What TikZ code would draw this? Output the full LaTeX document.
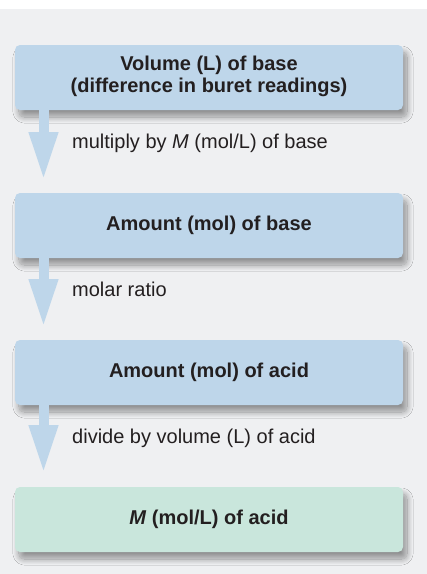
\documentclass[tikz,border=0pt]{standalone}
\usepackage{fontspec}
\setmainfont{Liberation Sans}
\usetikzlibrary{arrows.meta,shadows.blur}
\definecolor{bgcol}{HTML}{EFF0F2}
\definecolor{bluebox}{HTML}{BED6EA}
\definecolor{greenbox}{HTML}{C9E6DC}
\definecolor{txtcol}{HTML}{231F20}
\tikzset{
  stepbox/.style={rectangle, rounded corners=5pt, minimum width=388pt, minimum height=65pt,
    inner sep=0pt, align=center, text=txtcol, font=\fontsize{20}{22}\selectfont\bfseries,
    blur shadow={shadow xshift=4pt, shadow yshift=-7pt, shadow blur steps=20, shadow blur radius=6pt, shadow opacity=40}},
  bluestep/.style={stepbox, fill=bluebox},
  greenstep/.style={stepbox, fill=greenbox},
  steplabel/.style={anchor=base west, inner sep=0pt, text=txtcol, font=\fontsize{20}{22}\selectfont},
  flowarrow/.style={draw=bluebox, line width=10pt, line cap=butt,
    -{Triangle[width=27pt,length=48pt,fill=bluebox]}}
}
\begin{document}
\begin{tikzpicture}[x=1pt,y=-1pt]
\useasboundingbox (0,0) rectangle (427,574);
\fill[bgcol] (0,9) rectangle (427,574);
\node[bluestep] (b1) at (209,77.5) {\raisebox{-2pt}{\begin{tabular}{@{}c@{}}Volume (L) of base\\(difference in buret readings)\end{tabular}}};
\node[bluestep] (b2) at (209,225.5) {Amount (mol) of base};
\node[bluestep] (b3) at (209,372.5) {Amount (mol) of acid};
\node[greenstep] (b4) at (209,519.5) {\textit{M} (mol/L) of acid};
\coordinate (t1) at (43.5,180);
\coordinate (t2) at (43.5,327);
\coordinate (t3) at (43.5,473);
\draw[flowarrow] (b1.south -| t1) -- (t1);
\draw[flowarrow] (b2.south -| t2) -- (t2);
\draw[flowarrow] (b3.south -| t3) -- (t3);
\node[steplabel] (l1) at (72,148) {multiply by \textit{M} (mol/L) of base};
\node[steplabel] (l2) at (72,296) {molar ratio};
\node[steplabel] (l3) at (72,443) {divide by volume (L) of acid};
\end{tikzpicture}
\end{document}
